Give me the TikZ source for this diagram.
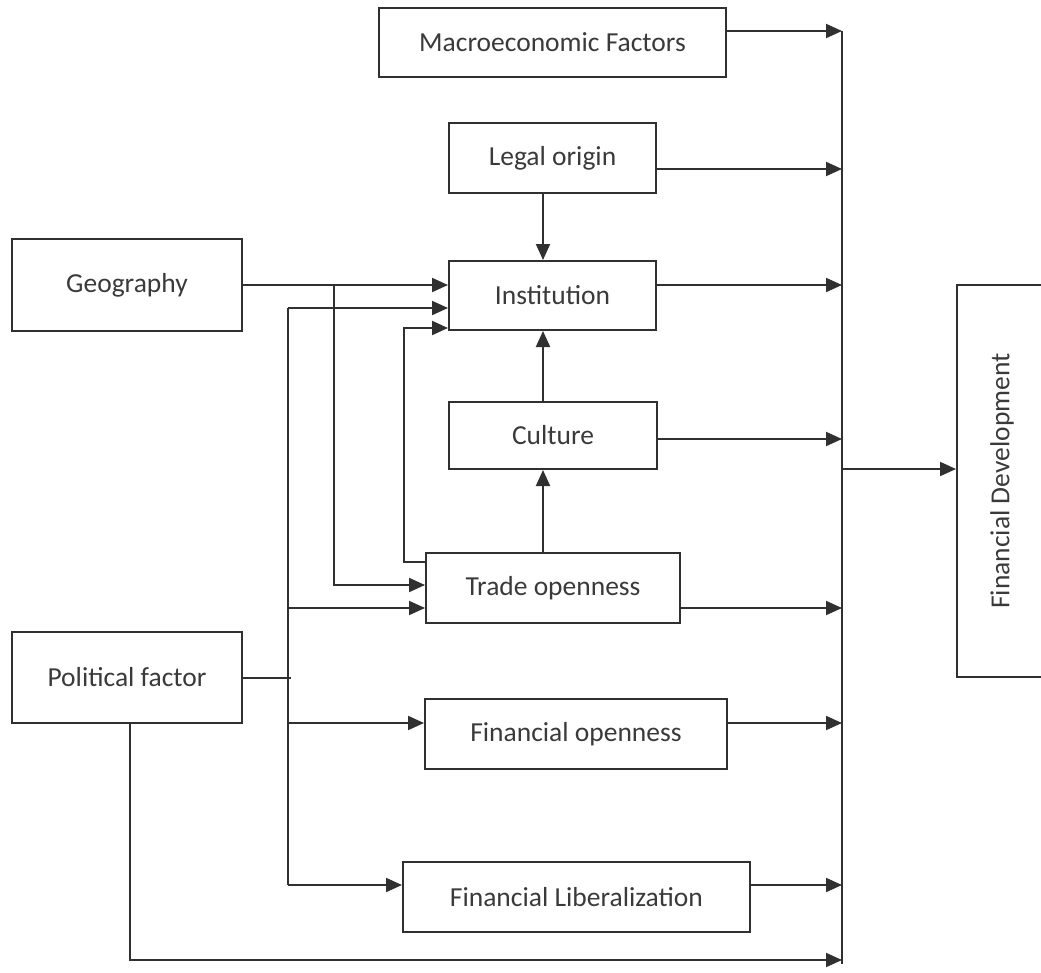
\documentclass[tikz,border=0pt]{standalone}
\usepackage{fontspec}
\setmainfont{Carlito}
\usetikzlibrary{arrows.meta}
\definecolor{ln}{HTML}{303030}
\definecolor{tx}{HTML}{3A3A3A}
\begin{document}
\begin{tikzpicture}[x=1pt,y=-1pt,
  box/.style={draw=ln, line width=2pt, inner sep=0pt, font=\fontsize{27.5}{30}\selectfont, text=tx, anchor=center},
  conn/.style={draw=ln, line width=2pt},
  arr/.style={conn, -{Triangle[length=16pt,width=14pt]}}]
\useasboundingbox (0,0) rectangle (1041,972);
% boxes
\node[box, minimum width=347pt, minimum height=69pt] (macro) at (552.5,42.5) {Macroeconomic Factors};
\node[box, minimum width=207pt, minimum height=70pt] (legal) at (552.5,158) {Legal origin};
\node[box, minimum width=207pt, minimum height=69pt] (inst) at (552.5,295.5) {Institution};
\node[box, minimum width=208pt, minimum height=67pt] (culture) at (553,435.5) {Culture};
\node[box, minimum width=254pt, minimum height=70pt] (trade) at (553,588) {Trade openness};
\node[box, minimum width=302pt, minimum height=70pt] (finopen) at (576,734) {Financial openness};
\node[box, minimum width=347pt, minimum height=70pt] (finlib) at (576.5,897) {Financial Liberalization};
\node[box, minimum width=230pt, minimum height=92pt] (geo) at (127,285) {Geography};
\node[box, minimum width=230pt, minimum height=91pt] (pol) at (127,677.5) {Political factor};
\node[box, minimum width=90pt, minimum height=392pt] (fd) at (1002,481) {};
\node[rotate=90, inner sep=0pt, font=\fontsize{27.5}{30}\selectfont, text=tx] (fdtext) at (fd.center) {Financial Development};
% bus
\coordinate (btop) at (842,31);
\coordinate (bend) at (842,964);
\coordinate (blegal) at (842,169);
\coordinate (binst) at (842,285);
\coordinate (bcult) at (842,439);
\coordinate (bfd) at (842,469);
\coordinate (btrade) at (842,608);
\coordinate (bfo) at (842,723);
\coordinate (bfl) at (842,885);
\coordinate (bbot) at (842,960);
\draw[conn] (btop) -- (bend);
\draw[arr] (macro.east |- btop) -- (btop);
\draw[arr] (legal.east |- blegal) -- (blegal);
\draw[arr] (inst.east |- binst) -- (binst);
\draw[arr] (culture.east |- bcult) -- (bcult);
\draw[arr] (trade.east |- btrade) -- (btrade);
\draw[arr] (finopen.east |- bfo) -- (bfo);
\draw[arr] (finlib.east |- bfl) -- (bfl);
\draw[arr] (bfd) -- (bfd -| fd.west);
% vertical chain
\coordinate (vx) at (543,0);
\draw[arr] (legal.south -| vx) -- (inst.north -| vx);
\draw[arr] (culture.north -| vx) -- (inst.south -| vx);
\draw[arr] (trade.north -| vx) -- (culture.south -| vx);
% geography
\coordinate (gj) at (334,285);
\draw[arr] (geo.east) -- (geo.east -| inst.west);
\draw[arr] (gj) |- ([yshift=3pt]trade.west);
% political bus
\coordinate (pt) at (288,308);
\coordinate (p2) at (288,608);
\coordinate (p3) at (288,723);
\coordinate (pb) at (288,885);
\draw[conn] (pt) -- (pb);
\draw[conn] (pol.east) -- ([xshift=3pt]pol.east -| pt);
\draw[arr] (pt) -- (pt -| inst.west);
\draw[arr] (p2) -- (p2 -| trade.west);
\draw[arr] (p3) -- (p3 -| finopen.west);
\draw[arr] (pb) -- (pb -| finlib.west);
% trade back to institution
\coordinate (tb) at (404,328);
\draw[arr] ([yshift=26pt]trade.west) -| (tb) -- (tb -| inst.west);
% political bottom line
\coordinate (pl) at (130,960);
\draw[arr] (pol.south -| pl) -- (pl) -- (bbot);
\end{tikzpicture}
\end{document}
